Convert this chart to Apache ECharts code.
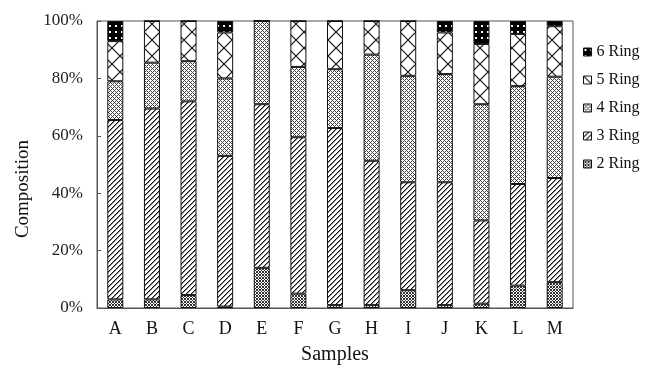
<!DOCTYPE html>
<html>
<head>
<meta charset="utf-8">
<script src="https://cdn.jsdelivr.net/npm/echarts@6.0.0/dist/echarts.min.js"></script>
<style>
  html, body { margin: 0; padding: 0; background: #fff; }
  #chart { width: 647px; height: 370px; }
</style>
</head>
<body>
<div id="chart"></div>
<script>
const samples = ['A', 'B', 'C', 'D', 'E', 'F', 'G', 'H', 'I', 'J', 'K', 'L', 'M'];
const ring2 = [3, 3, 4.5, 0.5, 14, 5, 1, 1, 6.2, 1, 1.5, 7.8, 9];
const ring3 = [62.5, 66.5, 67.5, 52.5, 57, 54.5, 61.7, 50.3, 37.6, 42.8, 29, 35.4, 36.3];
const ring4 = [13.5, 16, 14, 27, 29, 24.5, 20.5, 37, 37.1, 37.7, 40.5, 34.1, 35.3];
const ring5 = [14, 14.5, 14, 16, 0, 16, 16.8, 11.7, 19.1, 14.5, 21, 18.2, 17.6];
const ring6 = [7, 0, 0, 4, 0, 0, 0, 0, 0, 4, 8, 4.5, 1.8];
const yTicks = [0, 20, 40, 60, 80, 100];

const FONT = '"Liberation Serif", "DejaVu Serif", serif';

// small canvas tiles for the black & white fill patterns
function pixelPattern(size, bg, test) {
  const c = document.createElement('canvas');
  c.width = c.height = size;
  const ctx = c.getContext('2d');
  ctx.fillStyle = bg;
  ctx.fillRect(0, 0, size, size);
  for (let x = 0; x < size; x++) {
    for (let y = 0; y < size; y++) {
      const col = test(x, y);
      if (col) {
        ctx.fillStyle = col;
        ctx.fillRect(x, y, 1, 1);
      }
    }
  }
  return { image: c, repeat: 'repeat' };
}

const pat2 = pixelPattern(3, '#fff', (x, y) =>
  ((x + y) % 3 === 0 || (x - y + 6) % 3 === 0) ? '#333' : null);
const pat3 = pixelPattern(5, '#fff', (x, y) =>
  (x + y) % 5 === 4 ? '#111' : ((x + y) % 5 === 0 ? '#888' : null));
const pat4 = pixelPattern(4, '#fff', (x, y) =>
  ((x + y) % 4 === 0 || (x - y + 8) % 4 === 0) ? '#444' : null);

function bigCross() {
  const c = document.createElement('canvas');
  c.width = c.height = 16;
  const ctx = c.getContext('2d');
  ctx.fillStyle = '#fff';
  ctx.fillRect(0, 0, 16, 16);
  ctx.strokeStyle = '#111';
  ctx.lineWidth = 1.2;
  ctx.beginPath();
  ctx.moveTo(0, 0); ctx.lineTo(16, 16);
  ctx.moveTo(16, 0); ctx.lineTo(0, 16);
  ctx.stroke();
  return { image: c, repeat: 'repeat' };
}
const pat5 = bigCross();
const pat6 = pixelPattern(6, '#000', (x, y) =>
  ((x % 6 === 1 || x % 6 === 2) && (y % 6 === 1 || y % 6 === 2)) ? '#fff' : null);

function ringSeries(name, data, fill) {
  return {
    name,
    type: 'bar',
    stack: 'total',
    data,
    barWidth: 16,
    itemStyle: { color: fill, borderColor: '#111', borderWidth: 1 },
  };
}

const chart = echarts.init(document.getElementById('chart'), null, { renderer: 'canvas' });

chart.setOption({
  animation: false,
  textStyle: { fontFamily: FONT, color: '#111' },
  grid: {
    left: 97, right: 74, top: 21, bottom: 58,
    show: true, borderColor: '#555', borderWidth: 1, backgroundColor: '#fff',
  },
  legend: {
    orient: 'vertical',
    left: 578,
    top: 38,
    itemWidth: 8,
    itemHeight: 8,
    itemGap: 10,
    icon: 'rect',
    data: ['6 Ring', '5 Ring', '4 Ring', '3 Ring', '2 Ring'],
    textStyle: { fontFamily: FONT, fontSize: 16, color: '#111', lineHeight: 18 },
    itemStyle: { borderColor: '#111', borderWidth: 1 },
  },
  xAxis: {
    type: 'category',
    data: samples,
    name: 'Samples',
    nameLocation: 'middle',
    nameGap: 37,
    nameTextStyle: { fontFamily: FONT, fontSize: 20, color: '#111' },
    axisLine: { lineStyle: { color: '#555', width: 1 } },
    axisTick: { inside: true, length: 4, interval: 0, lineStyle: { color: '#555' } },
    axisLabel: { fontFamily: FONT, fontSize: 18, color: '#111', margin: 12, interval: 0 },
  },
  yAxis: {
    type: 'value',
    min: yTicks[0],
    max: yTicks[yTicks.length - 1],
    interval: 20,
    axisLine: { show: true, lineStyle: { color: '#555', width: 1 } },
    axisTick: { show: true, inside: true, length: 4, lineStyle: { color: '#555' } },
    splitLine: { show: false },
    axisLabel: { fontFamily: FONT, fontSize: 17, color: '#222', margin: 14, formatter: '{value}%' },
  },
  graphic: [{
    type: 'text',
    x: 23,
    y: 189,
    rotation: Math.PI / 2,
    style: {
      text: 'Composition',
      font: '19px ' + FONT,
      fill: '#111',
      textAlign: 'center',
      textVerticalAlign: 'middle',
    },
  }],
  series: [
    ringSeries('2 Ring', ring2, pat2),
    ringSeries('3 Ring', ring3, pat3),
    ringSeries('4 Ring', ring4, pat4),
    ringSeries('5 Ring', ring5, pat5),
    ringSeries('6 Ring', ring6, pat6),
  ],
});

window.addEventListener('resize', () => chart.resize());
</script>
</body>
</html>
